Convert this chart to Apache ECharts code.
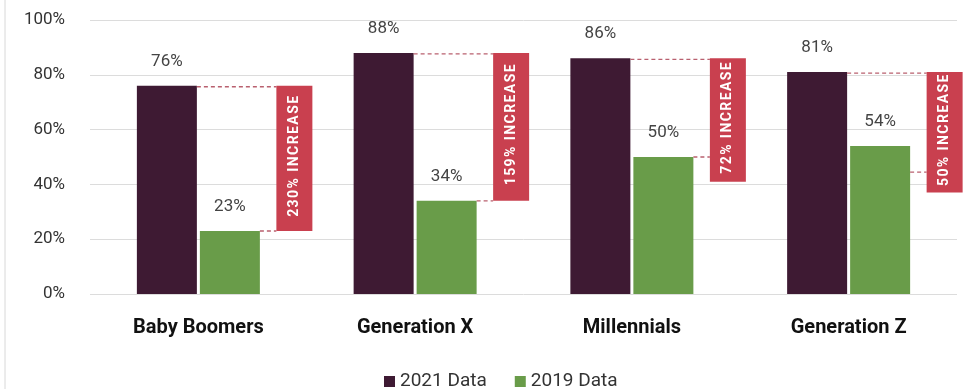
<!DOCTYPE html>
<html>
<head>
<meta charset="utf-8">
<script src="https://cdn.jsdelivr.net/npm/echarts@6/dist/echarts.min.js"></script>
<style>
  html, body { margin: 0; padding: 0; background: #fff; }
  #chart { width: 965px; height: 389px; }
</style>
</head>
<body>
<div id="chart"></div>
<script>
// Share of each generation, 2021 vs 2019
const categories = ['Baby Boomers', 'Generation X', 'Millennials', 'Generation Z'];
const data2021 = [76, 88, 86, 81];
const data2019 = [23, 34, 50, 54];
const increaseLabels = ['230% INCREASE', '159% INCREASE', '72% INCREASE', '50% INCREASE'];
// lower edge of each increase banner and the height of its lower connector
const bannerLow = [23, 34, 41, 37];
const connectorLow = [23, 34, 50, 44.5];
const yTicks = [0, 20, 40, 60, 80, 100];

const DARK = '#3e1a33';
const GREEN = '#699c49';
const RED = '#c9404f';
const FONT = 'Roboto, "Noto Sans", sans-serif';

const chart = echarts.init(document.getElementById('chart'));

const bannerData = categories.map((c, i) => [i, data2021[i], bannerLow[i], connectorLow[i], increaseLabels[i]]);

chart.setOption({
  animation: false,
  textStyle: { fontFamily: FONT },
  grid: { left: 90, right: 8, top: 20, bottom: 95 },
  legend: {
    top: 367,
    left: 379,
    icon: 'rect',
    itemWidth: 11,
    itemHeight: 11,
    itemGap: 28,
    textStyle: { fontSize: 19, color: '#333', fontFamily: FONT },
    data: ['2021 Data', '2019 Data']
  },
  xAxis: {
    type: 'category',
    data: categories,
    axisLine: { show: false },
    axisTick: { show: false },
    axisLabel: { fontSize: 20, fontWeight: 'bold', color: '#111', margin: 24, fontFamily: FONT }
  },
  yAxis: {
    type: 'value',
    min: 0,
    max: 100,
    interval: 20,
    axisLine: { show: false },
    axisTick: { show: false },
    axisLabel: {
      fontSize: 17, color: '#333', margin: 25, fontFamily: FONT,
      formatter: v => (yTicks.indexOf(v) >= 0 ? v + '%' : '')
    },
    splitLine: { lineStyle: { color: '#dcdcdc', width: 1 } }
  },
  graphic: [{
    type: 'line',
    shape: { x1: 5, y1: 0, x2: 5, y2: 389 },
    style: { stroke: '#d8d8d8', lineWidth: 1 }
  }],
  series: [
    {
      name: '2021 Data',
      type: 'bar',
      data: data2021,
      barWidth: 60,
      barGap: '5%',
      itemStyle: { color: DARK },
      label: {
        show: true, position: 'top', distance: 16,
        formatter: '{c}%', fontSize: 17, color: '#444', fontFamily: FONT
      }
    },
    {
      name: '2019 Data',
      type: 'bar',
      data: data2019,
      barWidth: 60,
      itemStyle: { color: GREEN },
      label: {
        show: true, position: 'top', distance: 16,
        formatter: '{c}%', fontSize: 17, color: '#444', fontFamily: FONT
      }
    },
    {
      type: 'custom',
      silent: true,
      z: 5,
      data: bannerData,
      renderItem: function (params, api) {
        const idx = api.value(0);
        const top = api.coord([idx, api.value(1)]);
        const low = api.coord([idx, api.value(2)]);
        const conn = api.coord([idx, api.value(3)]);
        const cx = top[0];
        const bx = cx + 78;
        const bw = 36;
        const darkRight = cx - 1.5;
        const greenRight = cx + 61.5;
        const label = increaseLabels[params.dataIndex];
        return {
          type: 'group',
          children: [
            {
              type: 'line',
              shape: { x1: darkRight, y1: top[1] + 1, x2: bx, y2: top[1] + 1 },
              style: { stroke: '#b9606f', lineWidth: 1.3, lineDash: [4, 3] }
            },
            {
              type: 'line',
              shape: { x1: greenRight, y1: conn[1], x2: bx, y2: conn[1] },
              style: { stroke: '#b9606f', lineWidth: 1.3, lineDash: [4, 3] }
            },
            {
              type: 'rect',
              shape: { x: bx, y: top[1], width: bw, height: low[1] - top[1] },
              style: { fill: RED }
            },
            {
              type: 'text',
              x: bx + bw / 2,
              y: (top[1] + low[1]) / 2 - 2,
              rotation: Math.PI / 2,
              style: {
                text: label.split('').join('\u200A'),
                fill: '#fff',
                font: 'bold 14px ' + FONT,
                align: 'center',
                verticalAlign: 'middle'
              }
            }
          ]
        };
      }
    }
  ]
});
</script>
</body>
</html>
